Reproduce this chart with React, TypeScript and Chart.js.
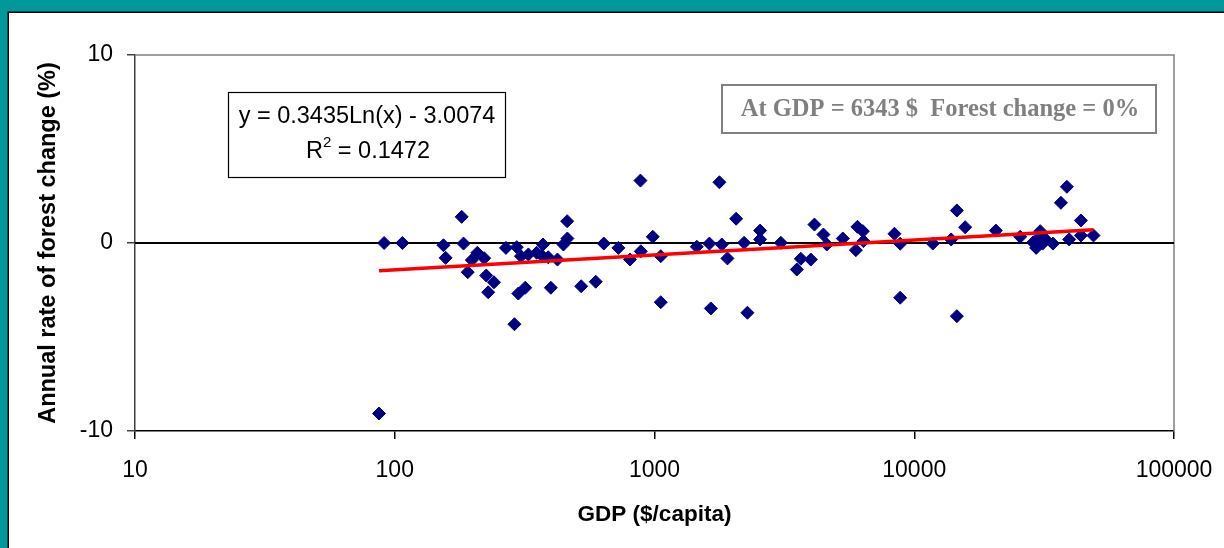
import React, { useEffect, useRef } from "react";
import { Chart, registerables } from "chart.js";

Chart.register(...registerables);

const gdpValues = [87, 91, 107, 154, 157, 181, 184, 191, 198, 208, 221, 225, 229, 241, 268, 295, 289, 306, 299, 318, 327, 352, 372, 368, 390, 423, 399, 446, 462, 461, 522, 594, 638, 726, 805, 883, 886, 985, 1057, 1057, 1455, 1627, 1778, 1816, 1648, 1909, 2062, 2213, 2279, 2550, 2550, 3064, 3531, 3659, 3998, 4128, 4470, 4607, 5309, 5959, 6045, 6342, 6376, 8390, 8826, 8826, 11790, 13873, 14588, 15703, 14588, 20615, 25573, 29476, 30540, 29660, 31916, 34180, 36690, 38690, 39490, 43810, 43810, 48980, 28700, 31200];
const changeValues = [-9.07, 0, 0, -0.12, -0.79, 1.39, -0.03, -1.55, -0.91, -0.52, -0.81, -1.73, -2.62, -2.09, -0.26, -0.22, -4.32, -0.7, -2.69, -2.38, -0.61, -0.52, -0.08, -0.66, -0.76, -0.88, -2.38, -0.08, 0.24, 1.16, -2.3, -2.06, -0.03, -0.26, -0.88, 3.32, -0.44, 0.33, -0.7, -3.15, -0.2, -0.03, 3.23, -0.08, -3.48, -0.82, 1.29, 0.01, -3.71, 0.66, 0.19, 0.01, -1.41, -0.84, -0.88, 0.98, 0.45, -0.08, 0.24, -0.38, 0.86, 0.63, 0.1, 0.49, -0.04, -2.91, -0.03, 0.19, 1.73, 0.84, -3.89, 0.66, 0.33, -0.26, 0.63, 0.19, 0.22, -0.03, 2.14, 2.99, 0.19, 1.2, 0.4, 0.4, 0.03, -0.03];

const trendGdp = [87, 49000];
const trendChange = [-1.47, 0.7];

const xTickValues = [10, 100, 1000, 10000, 100000];
const yTickValues = [-10, 0, 10];

const equationLines = ["y = 0.3435Ln(x) - 3.0074", "R", "2", " = 0.1472"];
const noteText = "At GDP = 6343 $  Forest change = 0%";
const xTitle = "GDP ($/capita)";
const yTitle = "Annual rate of forest change (%)";

const W = 1224;
const H = 548;
const SANS = "'Liberation Sans', Arial, sans-serif";

const framePlugin = {
  id: "frame",
  beforeDraw(chart: any) {
    const ctx = chart.ctx;
    ctx.save();
    ctx.fillStyle = "#009999";
    ctx.fillRect(0, 0, W, H);
    ctx.fillStyle = "#ffffff";
    ctx.fillRect(9, 13, W - 9, H - 13);
    ctx.strokeStyle = "#000000";
    ctx.lineWidth = 1.5;
    ctx.beginPath();
    ctx.moveTo(8.25, H);
    ctx.lineTo(8.25, 12.25);
    ctx.lineTo(W, 12.25);
    ctx.stroke();
    ctx.restore();
  },
  beforeDatasetsDraw(chart: any) {
    const ctx = chart.ctx;
    const a = chart.chartArea;
    const ys = chart.scales.y;
    ctx.save();
    ctx.strokeStyle = "#808080";
    ctx.lineWidth = 1.5;
    ctx.beginPath();
    ctx.moveTo(a.left, a.top);
    ctx.lineTo(a.right, a.top);
    ctx.lineTo(a.right, a.bottom);
    ctx.stroke();
    const y0 = ys.getPixelForValue(0);
    ctx.strokeStyle = "#000000";
    ctx.lineWidth = 2;
    ctx.beginPath();
    ctx.moveTo(a.left, y0);
    ctx.lineTo(a.right, y0);
    ctx.stroke();
    ctx.restore();
  },
  afterDraw(chart: any) {
    const ctx = chart.ctx;
    ctx.save();
    ctx.fillStyle = "#ffffff";
    ctx.fillRect(228, 92, 277, 85);
    ctx.strokeStyle = "#000000";
    ctx.lineWidth = 1.2;
    ctx.strokeRect(228.5, 92.5, 277, 85);
    ctx.fillStyle = "#000000";
    ctx.font = `23.5px ${SANS}`;
    ctx.textBaseline = "middle";
    ctx.textAlign = "center";
    ctx.fillText(equationLines[0], 367, 117);
    const r = equationLines[1];
    const sup = equationLines[2];
    const rest = equationLines[3];
    ctx.font = `23.5px ${SANS}`;
    const wR = ctx.measureText(r).width;
    const wRest = ctx.measureText(rest).width;
    ctx.font = `15px ${SANS}`;
    const wSup = ctx.measureText(sup).width;
    const total = wR + wSup + wRest;
    let x = 368 - total / 2;
    ctx.textAlign = "left";
    ctx.font = `23.5px ${SANS}`;
    ctx.fillText(r, x, 152);
    x += wR;
    ctx.font = `15px ${SANS}`;
    ctx.fillText(sup, x, 143);
    x += wSup;
    ctx.font = `23.5px ${SANS}`;
    ctx.fillText(rest, x, 152);

    ctx.fillStyle = "#ffffff";
    ctx.fillRect(722, 85, 434, 48);
    ctx.strokeStyle = "#808080";
    ctx.lineWidth = 2;
    ctx.strokeRect(722, 85, 434, 48);
    ctx.fillStyle = "#808080";
    ctx.font = "bold 24.5px 'Liberation Serif', 'Times New Roman', serif";
    ctx.textAlign = "center";
    ctx.textBaseline = "middle";
    ctx.fillText(noteText, 940, 110);
    ctx.restore();
  },
};

export default function App() {
  const canvasRef = useRef<HTMLCanvasElement | null>(null);

  useEffect(() => {
    document.body.style.margin = "0";
    const canvas = canvasRef.current;
    if (!canvas) return;
    const scatterData = gdpValues.map((g, i) => ({ x: g, y: changeValues[i] }));
    const trendData = trendGdp.map((g, i) => ({ x: g, y: trendChange[i] }));
    const chart = new Chart(canvas, {
      type: "scatter",
      data: {
        datasets: [
          {
            type: "line",
            label: "Trend",
            data: trendData,
            borderColor: "#ff0000",
            borderWidth: 3.5,
            pointRadius: 0,
            fill: false,
            order: 0,
          } as any,
          {
            label: "Countries",
            data: scatterData,
            pointStyle: "rectRot",
            pointRadius: 6.5,
            backgroundColor: "#000080",
            borderColor: "#000080",
            borderWidth: 1,
            order: 1,
          },
        ],
      },
      options: {
        responsive: false,
        animation: false,
        devicePixelRatio: 1,
        layout: { padding: { left: 0, top: 55, right: 50, bottom: 0 } },
        plugins: {
          legend: { display: false },
          tooltip: { enabled: false },
        },
        scales: {
          x: {
            type: "logarithmic",
            min: 10,
            max: 100000,
            afterBuildTicks: (scale: any) => {
              scale.ticks = xTickValues.map((v) => ({ value: v }));
            },
            afterFit: (scale: any) => {
              scale.height = H - 431;
              scale.paddingLeft = 0;
              scale.paddingRight = 0;
            },
            border: { color: "#000000", width: 1.5 },
            grid: { drawOnChartArea: false, drawTicks: true, tickLength: 8, color: "#000000", lineWidth: 1.5 },
            ticks: {
              autoSkip: false,
              maxRotation: 0,
              color: "#000000",
              padding: 18,
              font: { family: SANS, size: 23 },
              callback: (v: any) => String(v),
            },
            title: {
              display: true,
              text: xTitle,
              color: "#000000",
              font: { family: SANS, size: 22.5, weight: "bold" },
              padding: { top: 0, bottom: 20 },
            },
          },
          y: {
            min: -10,
            max: 10,
            afterBuildTicks: (scale: any) => {
              scale.ticks = yTickValues.map((v) => ({ value: v }));
            },
            afterFit: (scale: any) => {
              scale.width = 135;
              scale.paddingTop = 0;
              scale.paddingBottom = 0;
            },
            border: { color: "#404040", width: 1.5 },
            grid: { drawOnChartArea: false, drawTicks: true, tickLength: 8, color: "#404040", lineWidth: 1.5 },
            ticks: {
              color: "#000000",
              padding: 14,
              font: { family: SANS, size: 23 },
              callback: (v: any) => String(v),
            },
            title: {
              display: true,
              text: yTitle,
              color: "#000000",
              font: { family: SANS, size: 23.5, weight: "bold" },
              padding: { top: 34, bottom: 0 },
            },
          },
        },
      },
      plugins: [framePlugin],
    });
    return () => chart.destroy();
  }, []);

  return (
    <div style={{ width: W, height: H, margin: 0, padding: 0 }}>
      <canvas ref={canvasRef} width={W} height={H} style={{ display: "block", width: W, height: H }} />
    </div>
  );
}
